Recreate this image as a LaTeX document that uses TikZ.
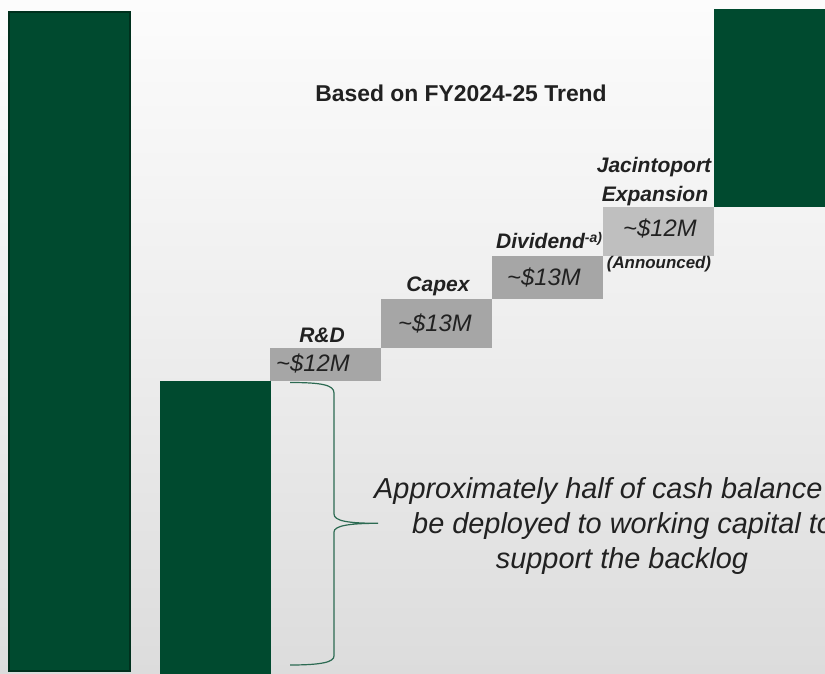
\documentclass[tikz,border=0pt]{standalone}
\usepackage{fontspec}
\setmainfont{Liberation Sans}

\definecolor{bgtop}{HTML}{FCFCFC}
\definecolor{bgbot}{HTML}{DCDCDC}
\definecolor{barfill}{HTML}{004A2F}
\definecolor{bardark}{HTML}{00301D}
\definecolor{stepgray}{HTML}{A6A6A6}
\definecolor{steplight}{HTML}{BFBFBF}
\definecolor{ink}{HTML}{212121}
\definecolor{bracegreen}{HTML}{2C6A52}

\begin{document}
\begin{tikzpicture}[x=1pt,y=-1pt,
  bar/.style={rectangle, fill=barfill, inner sep=0pt, outer sep=0pt},
  stepbox/.style={rectangle, fill=stepgray, inner sep=0pt, outer sep=0pt, minimum width=111pt},
  headtext/.style={inner sep=0pt, anchor=base, text=ink, font=\fontsize{22.9}{27}\selectfont\bfseries},
  itemlabel/.style={inner sep=0pt, anchor=base, text=ink, font=\fontsize{21}{25}\selectfont\bfseries\itshape},
  itemvalue/.style={inner sep=0pt, anchor=base west, text=ink, font=\fontsize{23.8}{28}\selectfont\itshape},
  smalllabel/.style={inner sep=0pt, anchor=base, text=ink, font=\fontsize{16.9}{20}\selectfont\bfseries\itshape},
  notetext/.style={inner sep=0pt, text=ink, font=\fontsize{28.9}{34}\selectfont\itshape},
  brace/.style={draw=bracegreen, line width=1.2pt}
]
\useasboundingbox (0,0) rectangle (825,674);
\clip (0,0) rectangle (825,674);

% background
\shade[top color=bgtop, bottom color=bgbot, middle color=bgtop!55!bgbot] (0,0) rectangle (825,674);

% total cash bar
\node[bar, draw=bardark, line width=2pt, minimum width=121pt, minimum height=659pt] (total) at (69.5,341.5) {};

% remaining cash bar
\node[bar, minimum width=111pt, minimum height=294pt] (cash) at (215.5,528) {};

% spending steps
\node[stepbox, minimum height=33pt] (rd) at (325.5,364.5) {};
\node[stepbox, minimum height=49pt] (capex) at (436.5,323.5) {};
\node[stepbox, minimum height=43pt] (div) at (547.5,277.5) {};
\node[stepbox, fill=steplight, minimum height=49pt] (jac) at (658.5,231.5) {};

% title
\node[headtext] (title) at (461,102) {Based on FY2024-25 Trend};

% step labels and values
\node[itemlabel] (rdlabel) at (322,342) {R\&D};
\node[itemvalue] (rdvalue) at (276,371) {\textasciitilde\$12M};

\node[itemlabel] (capexlabel) at (438,291) {Capex};
\node[itemvalue] (capexvalue) at (398,331) {\textasciitilde\$13M};

\node[itemlabel, anchor=base west] (divlabel) at (496,248) {Dividend\raisebox{6pt}{\fontsize{14}{14}\selectfont-a)}};
\node[itemvalue] (divvalue) at (507,285) {\textasciitilde\$13M};

\node[itemlabel] (jaclabel1) at (654,173) {Jacintoport};
\node[itemlabel] (jaclabel2) at (655,201) {Expansion};
\node[itemvalue] (jacvalue) at (623,236) {\textasciitilde\$12M};
\node[smalllabel] (announced) at (659,268) {(Announced)};

% ending bar
\node[bar, minimum width=112pt, minimum height=198pt] (endbar) at (770,108) {};

% brace beside the remaining cash
\coordinate (bracetop) at (290,382.5);
\coordinate (bracetip) at (378,523.3);
\coordinate (bracebot) at (290,665);
\draw[brace] (bracetop) .. controls (322,382.5) and (334,385) .. (334,393)
  -- (334,514) .. controls (334,521) and (348,523.3) .. (bracetip)
  .. controls (348,523.3) and (334,526) .. (334,532)
  -- (334,656) .. controls (334,662) and (322,665) .. (bracebot);

% note
\node[notetext, anchor=base west] (note1) at (374,498) {Approximately half of cash balance};
\node[notetext, anchor=base west] (note2) at (412,533) {be deployed to working capital to};
\node[notetext, anchor=base] (note3) at (622,568) {support the backlog};
\end{tikzpicture}
\end{document}
